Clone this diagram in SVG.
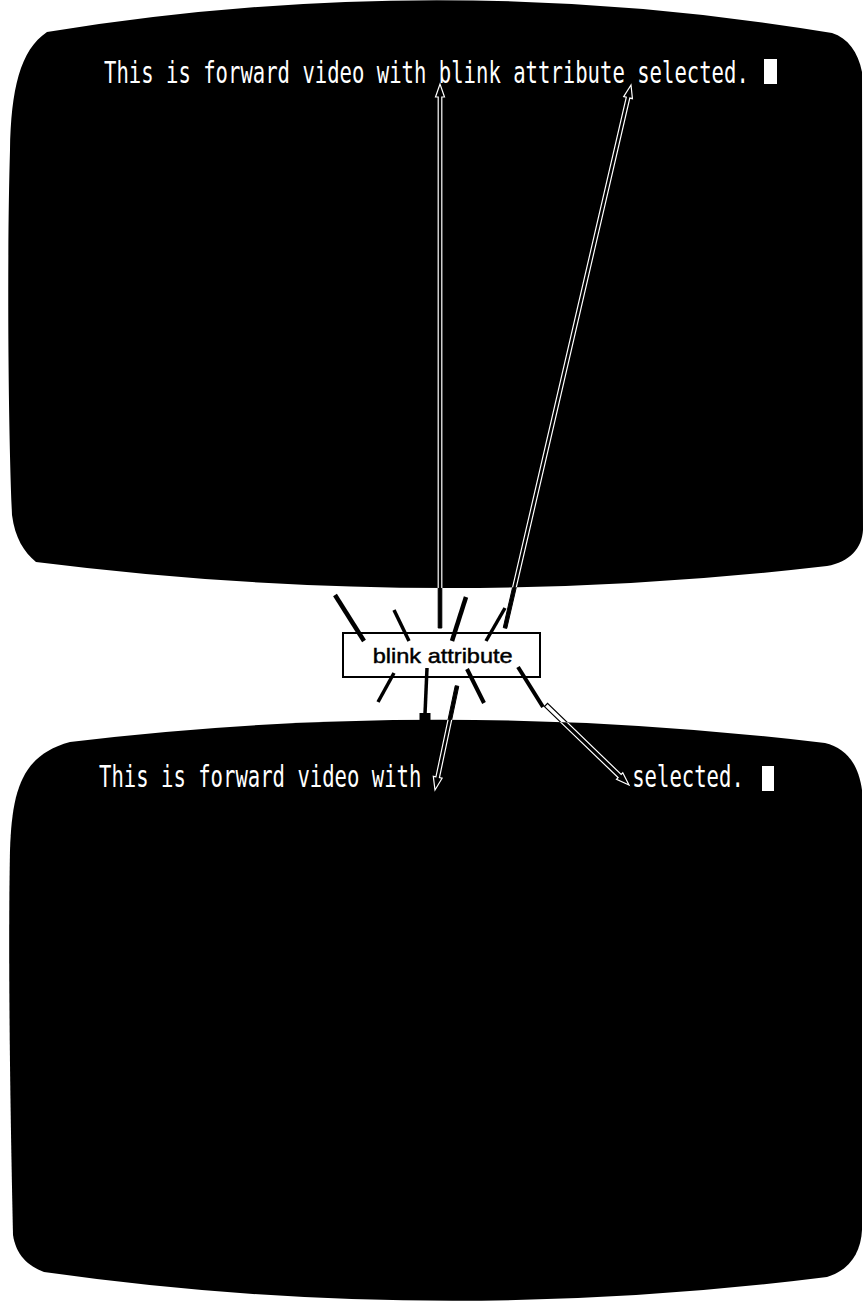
<svg xmlns="http://www.w3.org/2000/svg" width="865" height="1303" viewBox="0 0 865 1303">
<style>
.scr{fill:#000}
.tt{font-family:"DejaVu Sans Mono","Liberation Mono",monospace;font-size:30px;fill:#fff}
.cur{fill:#fff}
.box{fill:#fff;stroke:#000;stroke-width:2}
.lbl{font-family:"Liberation Sans",Arial,sans-serif;font-size:21px;fill:#000;stroke:#000;stroke-width:0.45}
.ray{stroke:#000;stroke-linecap:butt;fill:none}
.cg{fill:#000;stroke:#000;stroke-width:1;stroke-linejoin:miter}
.cgo{fill:#fff;stroke:#000;stroke-width:1.2;stroke-linejoin:miter}
.cs{fill:#000;stroke:#fff;stroke-width:1.2;stroke-linejoin:miter}
</style>
<defs>
<clipPath id="onscreens">
<path d="M47 32 Q440 -32 832 33 C848 38 858 52 862 72 L863 530 C862 548 850 562 827 566 Q432 612 36 562 C24 552 15 538 12 515 C8 420 7 250 10 150 C11 90 20 50 47 32 Z"/>
<path d="M70 742 Q440 697 825 743 C845 748 858 762 862 790 L862 1230 C861 1252 850 1270 827 1277 Q432 1327 44 1272 C28 1266 16 1255 13 1235 C10 1100 8 950 10 850 C12 790 22 755 70 742 Z"/>
</clipPath>
</defs>
<rect width="865" height="1303" fill="#fff"/>
<g id="screen-top">
<path class="scr" d="M47 32 Q440 -32 832 33 C848 38 858 52 862 72 L863 530 C862 548 850 562 827 566 Q432 612 36 562 C24 552 15 538 12 515 C8 420 7 250 10 150 C11 90 20 50 47 32 Z"/>
<text class="tt" x="104" y="83" textLength="644.8" lengthAdjust="spacingAndGlyphs">This is forward video with blink attribute selected.</text>
<rect class="cur" x="764" y="59" width="13" height="25"/>
</g>
<g id="screen-bottom">
<path class="scr" d="M70 742 Q440 697 825 743 C845 748 858 762 862 790 L862 1230 C861 1252 850 1270 827 1277 Q432 1327 44 1272 C28 1266 16 1255 13 1235 C10 1100 8 950 10 850 C12 790 22 755 70 742 Z"/>
<text class="tt" x="99" y="787" textLength="322.4" lengthAdjust="spacingAndGlyphs">This is forward video with</text>
<text class="tt" x="632.2" y="787" textLength="111.6" lengthAdjust="spacingAndGlyphs">selected.</text>
<rect class="cur" x="762" y="766" width="12" height="25"/>
</g>
<g id="blink-attribute">
<rect class="box" x="343" y="633" width="197" height="44"/>
<g id="rays">
<line class="ray" x1="335" y1="595" x2="364" y2="641" stroke-width="4.5"/>
<line class="ray" x1="394" y1="610" x2="409" y2="641" stroke-width="3.5"/>
<line class="ray" x1="466" y1="597" x2="452" y2="641" stroke-width="4.5"/>
<line class="ray" x1="505" y1="608" x2="486" y2="641" stroke-width="3.5"/>
<line class="ray" x1="394" y1="673" x2="378" y2="702" stroke-width="3.5"/>
<line class="ray" x1="427" y1="668" x2="425" y2="714" stroke-width="3.5"/>
<rect x="419.5" y="713" width="11" height="7" fill="#000"/>
<line class="ray" x1="467" y1="669" x2="484" y2="703" stroke-width="4"/>
<line class="ray" x1="518" y1="667" x2="543" y2="707" stroke-width="4"/>
</g>
<text class="lbl" x="442.7" y="663" text-anchor="middle" textLength="140" lengthAdjust="spacingAndGlyphs">blink attribute</text>
</g>
<g id="connectors">
<g id="conn-gap">
<polygon class="cg" points="441.8,628 441.8,97 444.5,97 440,84 435.5,97 438.2,97 438.2,628"/>
<polygon class="cg" points="506.75,628.4 629.8,98.07 632.44,98.68 631,85 623.68,96.64 626.3,97.25 503.25,627.6"/>
<polygon class="cg" points="458.76,686.37 439.45,777.65 442.09,778.21 435,790 433.29,776.35 435.93,776.91 455.24,685.63"/>
<polygon class="cgo" points="544.47,706.58 618.11,777.56 616.52,779.22 629,785 622.76,772.74 621.17,774.40 547.53,703.42"/>
</g>
<g id="conn-screen" clip-path="url(#onscreens)">
<polygon class="cs" points="441.8,628 441.8,97 444.5,97 440,84 435.5,97 438.2,97 438.2,628"/>
<polygon class="cs" points="506.75,628.4 629.8,98.07 632.44,98.68 631,85 623.68,96.64 626.3,97.25 503.25,627.6"/>
<polygon class="cs" points="458.76,686.37 439.45,777.65 442.09,778.21 435,790 433.29,776.35 435.93,776.91 455.24,685.63"/>
<polygon class="cs" points="544.47,706.58 618.11,777.56 616.52,779.22 629,785 622.76,772.74 621.17,774.40 547.53,703.42"/>
</g>
</g>
</svg>
